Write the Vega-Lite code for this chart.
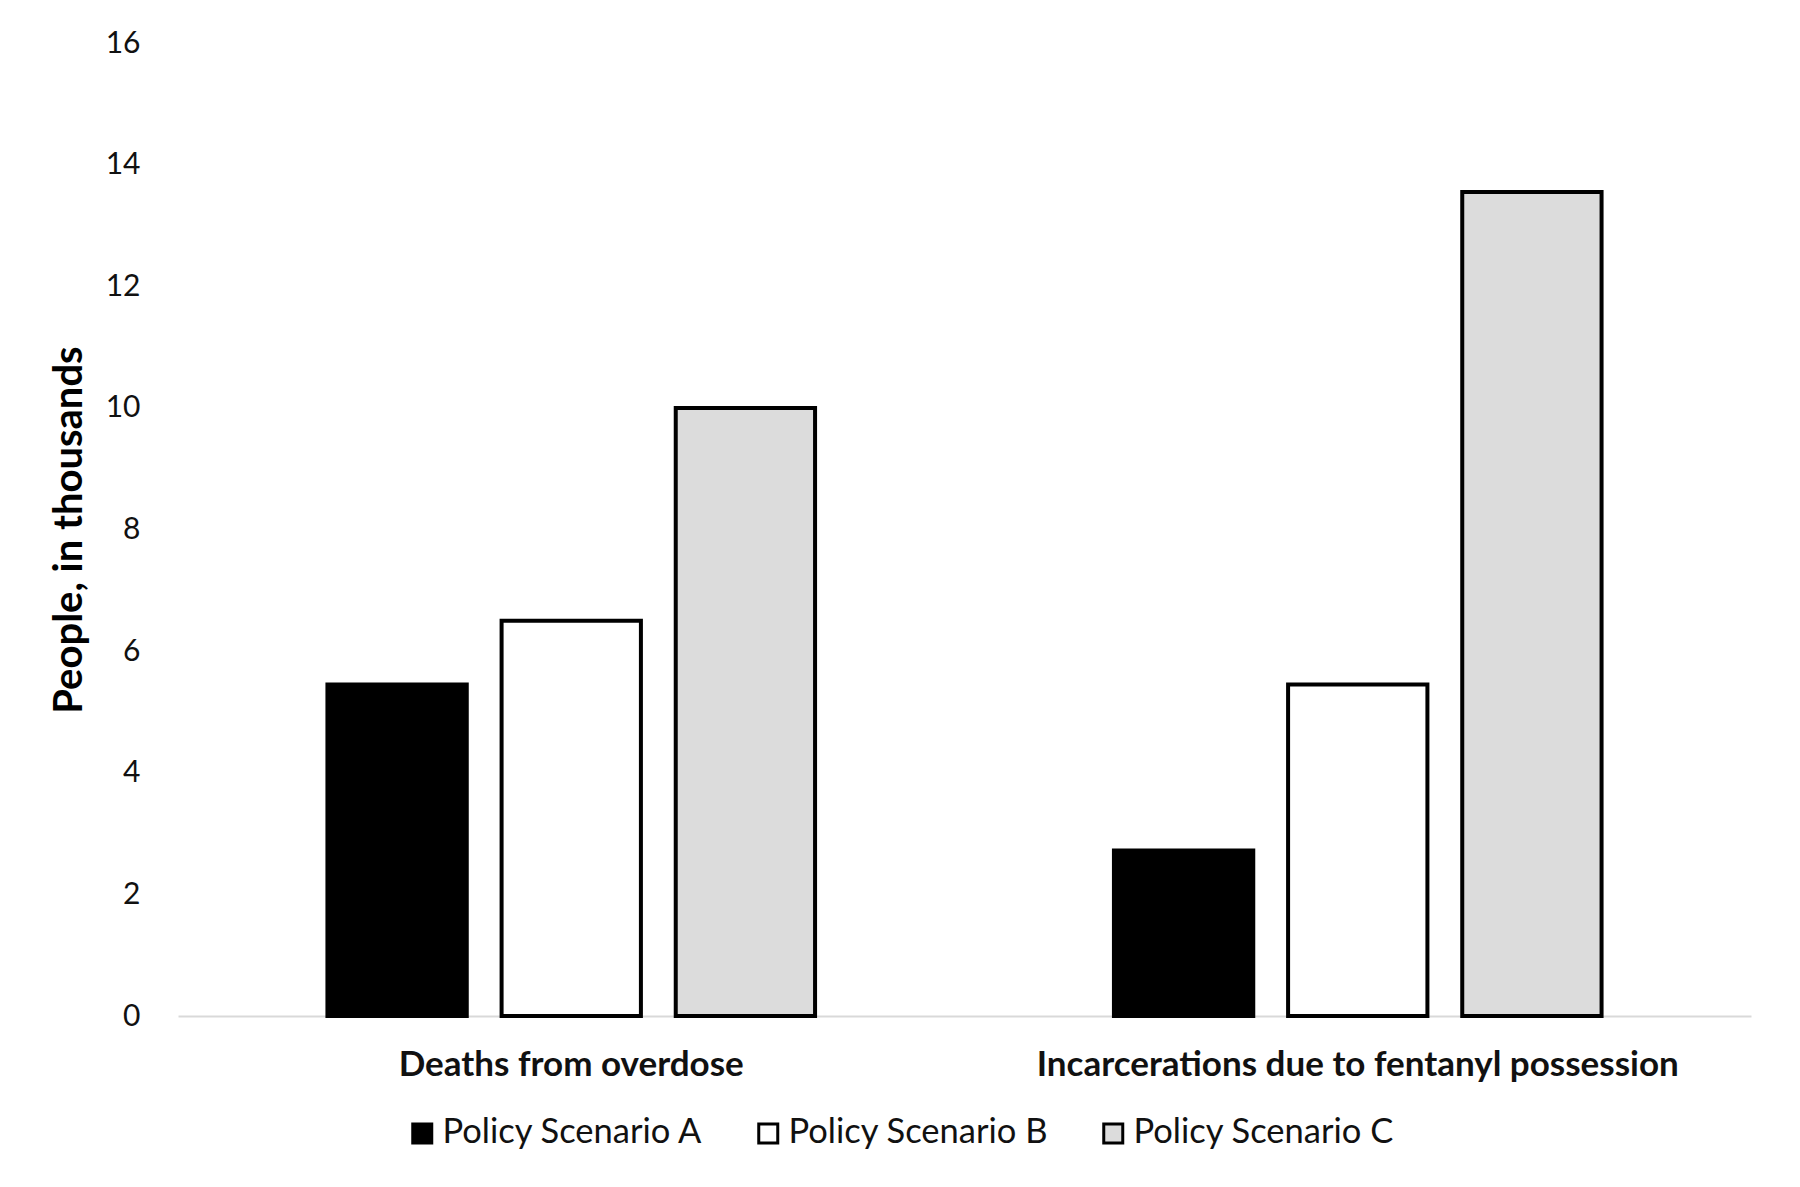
{
  "$schema": "https://vega.github.io/schema/vega-lite/v6.json",
  "width": 1573,
  "height": 973,
  "autosize": {"type": "none"},
  "padding": {"left": 178, "top": 43, "right": 49, "bottom": 171},
  "background": "white",
  "config": {
    "font": "Lato",
    "view": {"stroke": null},
    "axis": {"grid": false, "ticks": false}
  },
  "data": {
    "values": [
      {"category": "Deaths from overdose", "scenario": "Policy Scenario A", "value": 5.45},
      {"category": "Deaths from overdose", "scenario": "Policy Scenario B", "value": 6.5},
      {"category": "Deaths from overdose", "scenario": "Policy Scenario C", "value": 10.0},
      {"category": "Incarcerations due to fentanyl possession", "scenario": "Policy Scenario A", "value": 2.72},
      {"category": "Incarcerations due to fentanyl possession", "scenario": "Policy Scenario B", "value": 5.45},
      {"category": "Incarcerations due to fentanyl possession", "scenario": "Policy Scenario C", "value": 13.55}
    ]
  },
  "mark": {"type": "bar", "stroke": "#000000", "strokeWidth": 4},
  "encoding": {
    "x": {
      "field": "category",
      "type": "nominal",
      "sort": null,
      "scale": {"paddingInner": 0.38, "paddingOuter": 0.19},
      "axis": {
        "title": null,
        "labelAngle": 0,
        "labelFont": "Lato",
        "labelFontWeight": "bold",
        "labelFontSize": 35,
        "labelColor": "#111111",
        "labelPadding": 31,
        "labelLimit": 1000,
        "domainColor": "#d9d9d9",
        "domainWidth": 2
      }
    },
    "xOffset": {
      "field": "scenario",
      "type": "nominal",
      "sort": null,
      "scale": {"paddingInner": 0.2, "paddingOuter": 0}
    },
    "y": {
      "field": "value",
      "type": "quantitative",
      "scale": {"domain": [0, 16], "nice": false},
      "axis": {
        "title": "People, in thousands",
        "titleFont": "Lato",
        "titleFontWeight": "bold",
        "titleFontSize": 40,
        "titleColor": "#000000",
        "titlePadding": 16,
        "values": [0, 2, 4, 6, 8, 10, 12, 14, 16],
        "labelFont": "Lato",
        "labelFontSize": 30,
        "labelColor": "#111111",
        "labelPadding": 38,
        "domain": false
      }
    },
    "fill": {
      "field": "scenario",
      "type": "nominal",
      "scale": {
        "domain": ["Policy Scenario A", "Policy Scenario B", "Policy Scenario C"],
        "range": ["#000000", "#ffffff", "#dcdcdc"]
      },
      "legend": {
        "title": null,
        "orient": "none",
        "direction": "horizontal",
        "legendX": 227,
        "legendY": 1073,
        "symbolType": "square",
        "symbolSize": 361,
        "symbolStrokeColor": "#000000",
        "symbolStrokeWidth": 3,
        "symbolOpacity": 1,
        "labelFont": "Lato",
        "labelFontSize": 34.5,
        "labelColor": "#111111",
        "labelOffset": 3,
        "labelLimit": 1000,
        "columnPadding": 47
      }
    }
  }
}
